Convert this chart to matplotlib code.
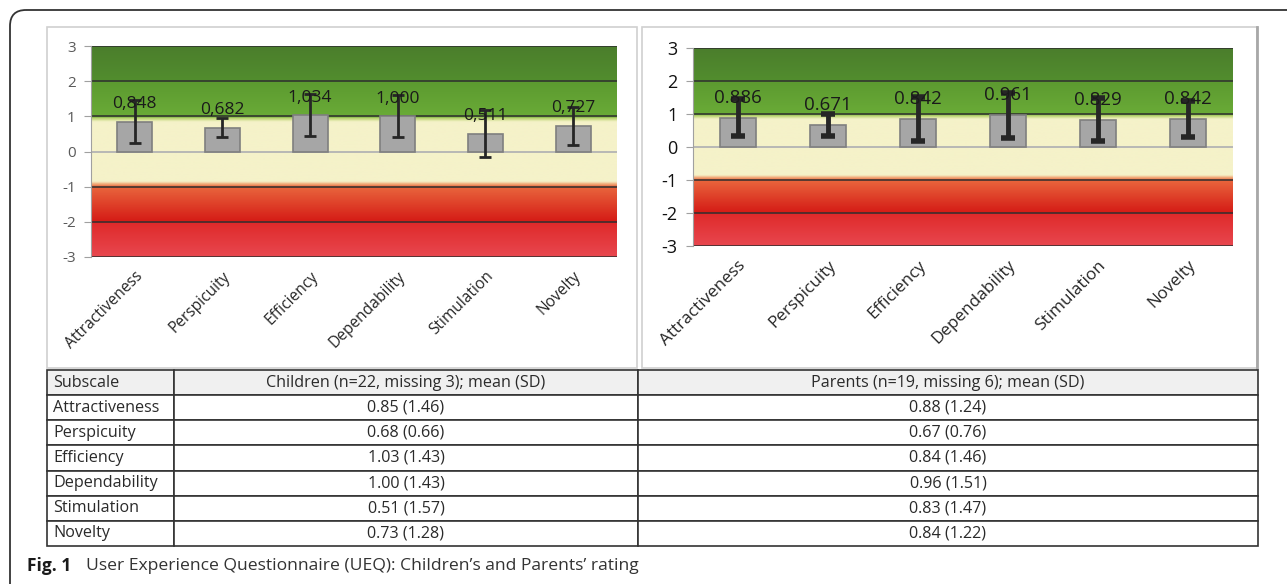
import matplotlib.pyplot as plt
import numpy as np
from matplotlib.colors import LinearSegmentedColormap
from matplotlib.patches import FancyBboxPatch, Rectangle
from matplotlib.table import Table

plt.rcParams["font.family"] = ["Open Sans", "DejaVu Sans"]
plt.rcParams["axes.unicode_minus"] = False

W, H = 1287, 584

# --- data ---
subscales = ["Attractiveness", "Perspicuity", "Efficiency", "Dependability", "Stimulation", "Novelty"]
children_mean = [0.848, 0.682, 1.034, 1.000, 0.511, 0.727]
children_ci = [0.61, 0.28, 0.60, 0.60, 0.66, 0.53]
parents_mean = [0.886, 0.671, 0.842, 0.961, 0.829, 0.842]
parents_ci = [0.56, 0.34, 0.66, 0.68, 0.66, 0.55]

table_header = ["Subscale", "Children (n=22, missing 3); mean (SD)", "Parents (n=19, missing 6); mean (SD)"]
children_cells = ["0.85 (1.46)", "0.68 (0.66)", "1.03 (1.43)", "1.00 (1.43)", "0.51 (1.57)", "0.73 (1.28)"]
parents_cells = ["0.88 (1.24)", "0.67 (0.76)", "0.84 (1.46)", "0.96 (1.51)", "0.83 (1.47)", "0.84 (1.22)"]

caption_bold = "Fig. 1"
caption_text = "User Experience Questionnaire (UEQ): Children\u2019s and Parents\u2019 rating"

# UEQ benchmark background: red (bad) -> cream (neutral) -> green (good)
band_stops = [
    (-3.0, "#e8474f"), (-2.02, "#df2a2a"), (-1.98, "#d51c16"), (-1.0, "#e9663d"),
    (-0.93, "#f1a877"), (-0.85, "#f5f2c9"), (0.85, "#f5f2c9"), (0.95, "#b9d36f"),
    (1.0, "#6aab37"), (1.98, "#5c9a30"), (2.02, "#528d2e"), (3.0, "#4b7e2c"),
]
ueq_cmap = LinearSegmentedColormap.from_list(
    "ueq", [((y + 3) / 6, c) for y, c in band_stops], N=512)


def px_rect(x0, y0, x1, y1):
    return [x0 / W, 1 - y1 / H, (x1 - x0) / W, (y1 - y0) / H]


def draw_chart(ax, means, ci, decimal, label_off, tick_size, tick_color, cat_size,
               val_size, elw, cap, capw):
    x = np.arange(len(subscales))
    ax.imshow(np.linspace(0, 1, 600).reshape(-1, 1), cmap=ueq_cmap, origin="lower",
              extent=[-0.5, len(x) - 0.5, -3, 3], aspect="auto", zorder=0)
    for y in [-3, -2, -1, 1, 2, 3]:
        ax.axhline(y, color="#2e2e2e", lw=1.1, zorder=1)
    ax.axhline(0, color="#b3b3b3", lw=1.3, zorder=1)
    ax.bar(x, means, width=0.4, color="#a6a6a6", edgecolor="#7f7f7f", lw=1.2, zorder=2)
    ax.errorbar(x, means, yerr=ci, fmt="none", ecolor="#262626", elinewidth=elw,
                capsize=cap, capthick=capw, zorder=3)
    for xi, v in zip(x, means):
        ax.text(xi, v + label_off, f"{v:.3f}".replace(".", decimal), ha="center", va="center",
                fontsize=val_size, color="#1a1a1a", zorder=4)
    ax.set_xlim(-0.5, len(x) - 0.5)
    ax.set_ylim(-3, 3)
    ax.set_yticks(range(-3, 4))
    ax.tick_params(axis="y", length=5, color="#a0a0a0", labelsize=tick_size,
                   labelcolor=tick_color, pad=6)
    ax.set_xticks(x)
    ax.set_xticklabels(subscales, rotation=45, ha="right", rotation_mode="anchor",
                       fontsize=cat_size, color="#262626")
    ax.tick_params(axis="x", length=0, pad=8)
    for side in ["top", "right", "bottom"]:
        ax.spines[side].set_visible(False)
    ax.spines["left"].set_color("#a0a0a0")


fig = plt.figure(figsize=(W / 100, H / 100), dpi=100)
fig.patch.set_facecolor("white")

canvas = fig.add_axes([0, 0, 1, 1], zorder=0)
canvas.set_xlim(0, W)
canvas.set_ylim(H, 0)
canvas.axis("off")
canvas.add_patch(FancyBboxPatch((10, 10), W + 40, H + 40,
                                boxstyle="round,pad=0,rounding_size=16",
                                fc="none", ec="#333333", lw=1.3))
canvas.add_patch(Rectangle((47, 27), 590, 341, fc="white", ec="#d0d0d0", lw=1.2))
canvas.add_patch(Rectangle((642, 27), 615, 341, fc="white", ec="#d0d0d0", lw=1.2))
canvas.plot([1257, 1257], [27, 368], color="#a8a8a8", lw=2)

ax_left = fig.add_axes(px_rect(91, 46, 617, 257), zorder=2)
draw_chart(ax_left, children_mean, children_ci, ",", 0.5, 11, "#5a5a5a", 11.2, 12.5,
           2.0, 4, 2.0)
ax_right = fig.add_axes(px_rect(693, 48, 1233, 246), zorder=2)
draw_chart(ax_right, parents_mean, parents_ci, ".", 0.6, 13, "#111111", 12.3, 13.5,
           3.5, 5, 4.0)

# summary table
ax_tab = fig.add_axes(px_rect(47.5, 370, 1258, 546), zorder=2)
ax_tab.axis("off")
tab = Table(ax_tab, bbox=[0, 0, 1, 1])
col_w = np.array([174 - 47.5, 638 - 174, 1258 - 638])
col_w = col_w / col_w.sum()
rows = [table_header] + [[s, c, p] for s, c, p in zip(subscales, children_cells, parents_cells)]
row_h = 1 / len(rows)
for r, row in enumerate(rows):
    for c, txt in enumerate(row):
        cell = tab.add_cell(r, c, col_w[c], row_h, text=txt,
                            loc="left" if c == 0 else "center",
                            facecolor="#f0f0f0" if r == 0 else "white",
                            edgecolor="#333333")
        cell.set_linewidth(1.2)
        cell.PAD = 0.045
        cell.get_text().set_fontsize(11.6)
        cell.get_text().set_color("#2a2a2a")
tab.auto_set_font_size(False)
ax_tab.add_table(tab)

canvas.text(27, 566, caption_bold, fontsize=12.5, fontweight="bold", va="center", color="#1a1a1a")
canvas.text(86, 566, caption_text, fontsize=12.6, va="center", color="#333333")

fig.savefig("out.png", dpi=100, facecolor="white")
